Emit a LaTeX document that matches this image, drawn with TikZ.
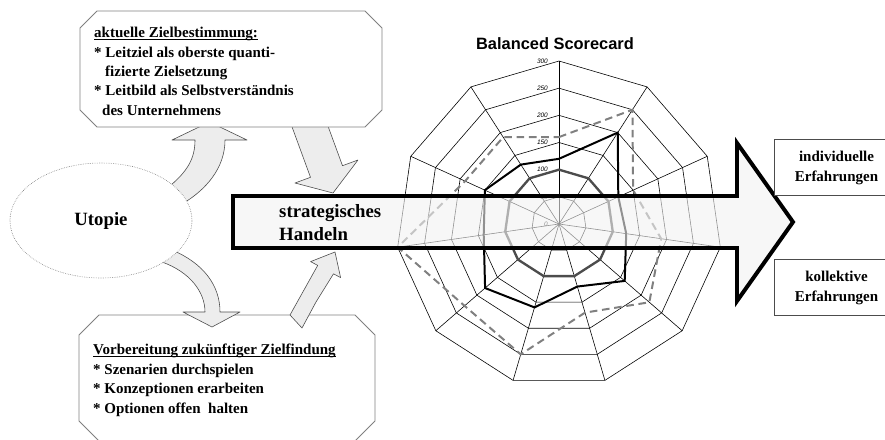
\documentclass[tikz,border=0pt]{standalone}
\usepackage{fontspec}
\setmainfont{Liberation Serif}
\setsansfont{Liberation Sans}
\usetikzlibrary{shapes.geometric}

\newcommand\ustrich[1]{\setbox0\hbox{#1}\rlap{\rule[-2pt]{\wd0}{0.8pt}}#1}

\tikzset{
  rand/.style={draw=black!50, line width=0.8pt, fill=white},
  blockpfeil/.style={draw=black!70, line width=0.5pt, fill=black!7, line join=round},
  grosspfeil/.style={draw=black, line width=3.4pt, fill=black!5, fill opacity=0.6},
  gitter/.style={draw=black, line width=0.5pt},
  skala/.style={anchor=east, inner sep=0pt, font=\sffamily\itshape\fontsize{5.5pt}{6pt}\selectfont},
  reiheA/.style={draw=black!70, line width=2pt},
  reiheB/.style={draw=black, line width=1.7pt},
  reiheC/.style={draw=black!50, line width=1.7pt, dash pattern=on 6.5pt off 4pt},
  textblock/.style={anchor=north west, align=left, inner sep=0pt,
    font=\fontsize{12.8pt}{16.6pt}\selectfont\bfseries},
  erfrand/.style={draw=black!70, line width=0.7pt, fill=white},
  erftext/.style={align=center, inner sep=0pt,
    font=\fontsize{12.8pt}{17pt}\selectfont\bfseries},
}

\begin{document}
\begin{tikzpicture}[x=0.03cm, y=-0.03cm]
  \useasboundingbox (0,0) rectangle (885,439);
  \clip (0,0) rectangle (885,439);

  % Netzdiagramm
  \def\rs{0.5433}
  \begin{scope}[shift={(559,224)}]
    \foreach \v in {50,100,...,300}
      \draw[gitter] (-90:{\v*\rs}) \foreach \k in {1,...,10}{ -- ({-90+\k*360/11}:{\v*\rs})} -- cycle;
    \foreach \k in {0,...,10}
      \draw[gitter] (0,0) -- ({-90+\k*360/11}:{300*\rs});
    \foreach \v in {0,50,...,300}
      \node[skala] at (-11,{-\v*\rs}) {\v};
    \foreach \v [count=\k from 0] in {100,100,100,100,100,100,100,100,100,100,100}
      \coordinate (a\k) at ({-90+\k*360/11}:{\v*\rs});
    \foreach \v [count=\k from 0] in {120,200,120,125,160,120,160,180,140,150,130}
      \coordinate (b\k) at ({-90+\k*360/11}:{\v*\rs});
    \foreach \v [count=\k from 0] in {160,250,150,190,220,170,250,230,300,190,190}
      \coordinate (c\k) at ({-90+\k*360/11}:{\v*\rs});
    \draw[reiheA] (a0) \foreach \k in {1,...,10}{ -- (a\k)} -- cycle;
    \draw[reiheB] (b0) \foreach \k in {1,...,10}{ -- (b\k)} -- cycle;
    \draw[reiheC] (c0) \foreach \k in {1,...,10}{ -- (c\k)} -- cycle;
  \end{scope}
  \node[font=\sffamily\bfseries\fontsize{14pt}{16pt}\selectfont] (titel) at (555,44) {Balanced Scorecard};

  % grosser Pfeil
  \draw[grosspfeil] (233,196) -- (737,196) -- (737,143) -- (793,222) -- (737,301)
    -- (737,248) -- (233,248) -- cycle;
  \node[anchor=west, align=left, inner sep=0pt,
    font=\fontsize{16pt}{19.6pt}\selectfont\bfseries] (handeln) at (279,222.5) {strategisches\\Handeln};

  % obere Pfeile und Box
  \draw[blockpfeil] (289.8,120.8) -- (310.5,177.3) -- (295,183) -- (333,193) -- (358,160)
    -- (342.5,165.7) -- (321.8,109.2) -- cycle;
  \draw[blockpfeil] (166,189) .. controls (188,172) and (195,158) .. (195,140) -- (172,140)
    -- (209.5,122) -- (247,140) -- (225,140) .. controls (225,168) and (206,190) .. (182,204) -- cycle;
  \draw[rand] (97,11) -- (365,11) -- (382,28) -- (382,110) -- (365,127) -- (97,127)
    -- (80,110) -- (80,28) -- cycle;
  \node[textblock] (ziel) at (94,27) {\ustrich{aktuelle Zielbestimmung:}\\
    * Leitziel als oberste quanti-\\
    \hspace*{9.4pt}fizierte Zielsetzung\\
    * Leitbild als Selbstverständnis\\
    \hspace*{6.8pt}des Unternehmens};

  % untere Box und Pfeile
  \draw[rand] (99,315) -- (355,315) -- (375,335) -- (375,421) -- (355,441) -- (99,441)
    -- (79,421) -- (79,335) -- cycle;
  \node[textblock] (vorbereitung) at (93,344) {\ustrich{Vorbereitung zukünftiger Zielfindung}\\
    * Szenarien durchspielen\\
    * Konzeptionen erarbeiten\\
    * Optionen offen\ \ halten};
  \draw[blockpfeil] (290,315) -- (317.7,265.4) -- (310.6,261.6) -- (335,252) -- (340.6,277.6)
    -- (333.5,273.8) -- (316,302) -- (302,328) -- cycle;
  \draw[blockpfeil] (172,250) .. controls (203,263) and (220,285) .. (220,312) -- (240,312)
    -- (212,327) -- (183,312) -- (205,312) .. controls (205,292) and (190,272) .. (162,262) -- cycle;

  % Utopie
  \node[ellipse, draw=black!55, densely dotted, line width=0.5pt, fill=white,
    minimum width=5.46cm, minimum height=3.45cm, inner sep=0pt,
    font=\fontsize{16pt}{19pt}\selectfont\bfseries] (utopie) at (101,220.5) {Utopie};

  % Erfahrungen
  \draw[erfrand] (774,139) rectangle (905,195);
  \draw[erfrand] (774,259) rectangle (905,315);
  \node[erftext] (indiv) at (836.5,167.5) {individuelle\\Erfahrungen};
  \node[erftext] (kollektiv) at (836.5,287.5) {kollektive\\Erfahrungen};
\end{tikzpicture}
\end{document}
